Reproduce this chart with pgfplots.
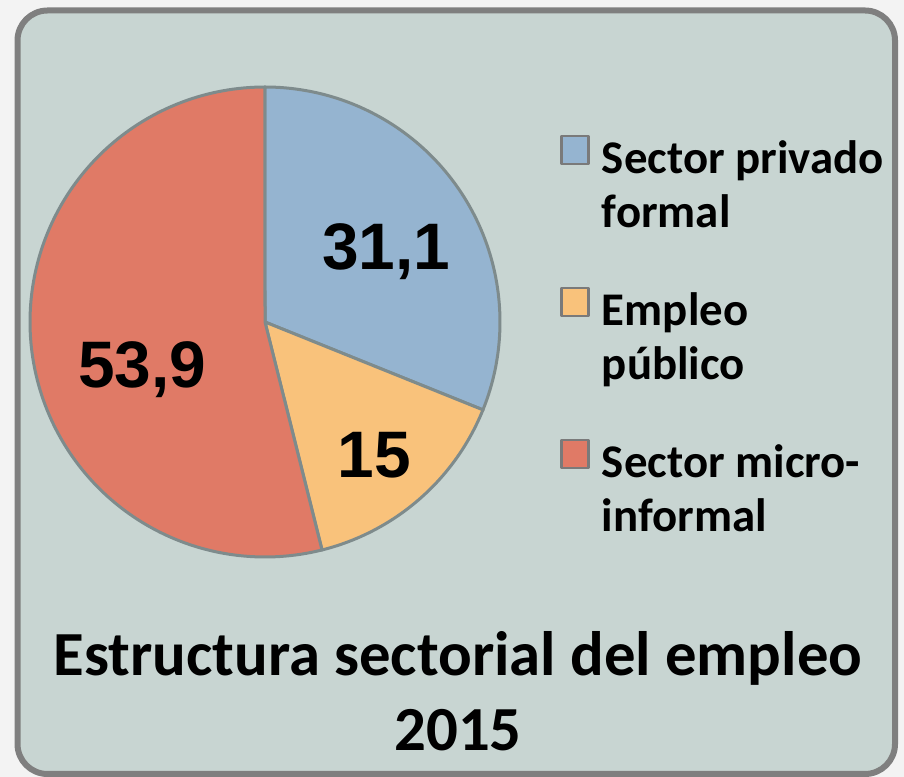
\documentclass[border=0pt]{standalone}
\usepackage{fontspec}
\usepackage{pgfplots}
\usepackage{pgfplotstable}
\pgfplotsset{compat=1.18}
\setmainfont{Carlito}
\newfontfamily\numfamily{Liberation Sans}
\definecolor{bg}{HTML}{F3F3F3}
\definecolor{boxfill}{HTML}{C8D5D2}
\definecolor{boxborder}{HTML}{7F7F7F}
\definecolor{pieblue}{HTML}{95B4D0}
\definecolor{pieyellow}{HTML}{F9C27B}
\definecolor{piered}{HTML}{E07A66}
\definecolor{piegrey}{HTML}{7E8B8C}
\definecolor{legendgrey}{HTML}{7A7A7A}
\newcommand\legendfont{\bfseries\fontsize{47}{55}\selectfont}
\newcommand\numfont{\numfamily\bfseries\fontsize{66}{70}\selectfont}
\newcommand\titlefont{\bfseries\fontsize{63}{75}\selectfont}

\pgfplotstableread{
idx value
0 31.1
1 15
2 53.9
}\piedata
\pgfplotstablegetelem{0}{value}\of\piedata \let\vA\pgfplotsretval%
\pgfplotstablegetelem{1}{value}\of\piedata \let\vB\pgfplotsretval%
\pgfplotstablegetelem{2}{value}\of\piedata \let\vC\pgfplotsretval%
\pgfmathsetmacro\total{\vA+\vB+\vC}%
\pgfmathsetmacro\aA{90-\vA/\total*360}%
\pgfmathsetmacro\aB{\aA-\vB/\total*360}%
\pgfmathsetmacro\aC{\aB-\vC/\total*360}%

\begin{document}%
\begin{tikzpicture}
\fill[bg] (0,0) rectangle (904bp,777bp);
\draw[draw=boxborder, fill=boxfill, line width=6bp, rounded corners=30bp] (17.5bp,3bp) rectangle (895bp,766.5bp);
\begin{axis}[at={(30bp,220bp)}, anchor=south west, scale only axis,
  width=470bp, height=470bp, xmin=-1, xmax=1, ymin=-1, ymax=1,
  hide axis, clip=false,
  legend style={at={(1.1277,0.899)}, anchor=north west, draw=none, fill=none,
    inner sep=0pt, row sep=57bp, column sep=12bp,
    nodes={inner sep=0pt, align=left, font=\legendfont}},
  legend cell align=left,
  legend image code/.code={\draw[#1, draw=legendgrey, line width=2.5bp] (0bp,18bp) rectangle (27bp,46bp);
    \path (0bp,-46bp) (0bp,46bp);},
]
\addplot[fill=pieblue, draw=piegrey, line width=3bp, line join=round, domain=\aA:90, samples=90, variable=\t]
  ({cos(\t)}, {sin(\t)}) -- (axis cs:0,0) -- cycle;
\addlegendentry{Sector privado\strut\\formal\strut}
\addplot[fill=pieyellow, draw=piegrey, line width=3bp, line join=round, domain=\aB:\aA, samples=50, variable=\t]
  ({cos(\t)}, {sin(\t)}) -- (axis cs:0,0) -- cycle;
\addlegendentry{Empleo\strut\\público\strut}
\addplot[fill=piered, draw=piegrey, line width=3bp, line join=round, domain=\aC:\aB, samples=150, variable=\t]
  ({cos(\t)}, {sin(\t)}) -- (axis cs:0,0) -- cycle;
\addlegendentry{Sector micro-\strut\\informal\strut}
\node[font=\numfont] at (axis cs:0.515,0.298) {31,1};
\node[font=\numfont] at (axis cs:0.464,-0.566) {15};
\node[font=\numfont] at (axis cs:-0.523,-0.204) {53,9};
\end{axis}
\node[font=\titlefont, align=center, anchor=base] at (458bp,27bp) {Estructura sectorial del empleo\\2015};
\pgfresetboundingbox
\path[use as bounding box] (0,0) rectangle (904bp,777bp);
\end{tikzpicture}%
\end{document}
